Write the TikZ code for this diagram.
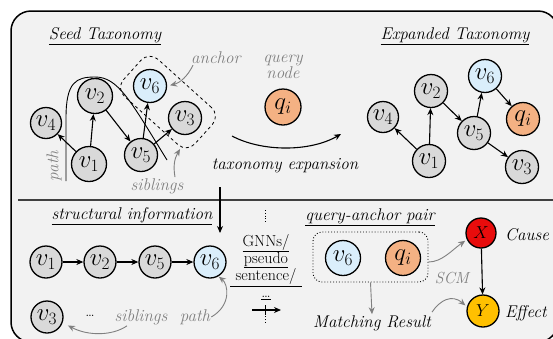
\documentclass[tikz,border=0pt]{standalone}
\usepackage{fontspec}
\usetikzlibrary{arrows.meta,shapes.geometric}
\definecolor{panel}{HTML}{F2F2F2}
\definecolor{nodegray}{HTML}{D9D9D9}
\definecolor{nodeblue}{HTML}{DAEEFB}
\definecolor{nodeorange}{HTML}{F4B183}
\definecolor{causered}{HTML}{E80C0C}
\definecolor{effectgold}{HTML}{FFC000}
\definecolor{notegray}{HTML}{808080}
\definecolor{rulegray}{HTML}{404040}
\tikzset{
  vnode/.style={circle, draw, line width=1.3pt, fill=nodegray, minimum size=33pt,
    inner sep=0pt, font=\fontsize{24}{24}\selectfont},
  bluenode/.style={vnode, fill=nodeblue},
  qnode/.style={vnode, fill=nodeorange},
  title/.style={font=\fontsize{17}{19}\selectfont\itshape, inner sep=1pt},
  note/.style={font=\fontsize{17}{19}\selectfont\itshape, text=notegray, inner sep=1pt},
  plain/.style={font=\fontsize{16}{18}\selectfont, inner sep=0.5pt},
  arr/.style={-{Stealth[length=7pt,width=6pt]}, line width=1.1pt},
  garr/.style={-{Stealth[length=7pt,width=6pt]}, line width=0.9pt, notegray},
}
\begin{document}
\begin{tikzpicture}[x=1pt,y=-1pt]
\useasboundingbox (0,0) rectangle (553,338);
\clip (0,0) rectangle (553,338);
% panel
\draw[line width=1.5pt, fill=panel, rounded corners=20pt] (11,11) rectangle (558,342);
\draw[line width=1.3pt, rulegray] (18,200) -- (560,200);

% ---------- seed taxonomy ----------
\node[title] (seedT) at (105,36) {\underline{Seed Taxonomy}};
\node[vnode, minimum size=31pt] (s4) at (46,123) {$v_4$};
\node[vnode, minimum size=35pt] (s2) at (95,96) {$v_2$};
\node[bluenode] (s6) at (150,86) {$v_6$};
\node[vnode] (s3) at (185,118) {$v_3$};
\node[vnode, minimum size=35pt] (s1) at (89,164) {$v_1$};
\node[vnode] (s5) at (141,155) {$v_5$};
\draw[arr] (s1) -- (s4);
\draw[arr] (s1) -- (s2);
\draw[arr] (s2) -- (s5);
\draw[arr] (s5) -- (s6);
\draw[arr] (s5) -- (s3);
% path through the hierarchy
\coordinate (pathA) at (66,181);
\coordinate (pathB) at (167,160);
\draw[line width=0.9pt] (pathA) -- (66,118) .. controls (66,82) and (76,77) .. (95,77)
  .. controls (118,77) and (130,100) .. (pathB);
% anchor + sibling group
\node[draw, dashed, line width=0.8pt, rounded corners=12pt, rotate=-42,
  minimum width=96pt, minimum height=50pt] (grp) at (168,102) {};
\node[note] (anchorlbl) at (216,58) {anchor};
\draw[garr, shorten >=3pt] ([xshift=3pt]anchorlbl.south west) to[bend left=25] (s6.east);
\node[note] (siblbl) at (157,186) {siblings};
\coordinate (grpB) at (180,149);
\draw[garr] ([xshift=18pt]siblbl.north) to[bend left=20] (grpB);
\node[note, rotate=90] (pathlbl) at (54,166) {path};

% query node
\node[note, align=center] (querylbl) at (283,67) {query\\[-3pt]node};
\node[qnode, minimum size=36pt] (q) at (283,107) {$q_i$};
\coordinate (expA) at (232,136);
\coordinate (expB) at (341,134);
\draw[arr] (expA) .. controls (262,152) and (310,152) .. (expB);
\node[title] (explbl) at (285,166) {taxonomy expansion};

% ---------- expanded taxonomy ----------
\node[title] (expT) at (455,36) {\underline{Expanded Taxonomy}};
\node[vnode, minimum size=31pt] (e4) at (383,117) {$v_4$};
\node[vnode] (e2) at (431,91) {$v_2$};
\node[bluenode] (e6) at (485,76) {$v_6$};
\node[qnode] (eq) at (523,119) {$q_i$};
\node[vnode] (e5) at (474,133) {$v_5$};
\node[vnode] (e1) at (429,161) {$v_1$};
\node[vnode] (e3) at (522,167) {$v_3$};
\draw[arr] (e1) -- (e4);
\draw[arr] (e1) -- (e2);
\draw[arr] (e2) -- (e5);
\draw[arr] (e5) -- (e6);
\draw[arr] (e6) -- (eq);
\draw[arr] (e5) -- (e3);

% ---------- structural information ----------
\coordinate (downA) at (220,187);
\coordinate (downB) at (220,233);
\draw[arr] (downA) -- (downB);
\node[title] (structT) at (132,216) {\underline{structural information}};
\node[vnode, minimum size=32pt] (b1) at (46,262) {$v_1$};
\node[vnode, minimum size=32pt] (b2) at (100,262) {$v_2$};
\node[vnode, minimum size=32pt] (b5) at (155,262) {$v_5$};
\node[bluenode, minimum size=32pt] (b6) at (210,262) {$v_6$};
\draw[arr] (b1) -- (b2);
\draw[arr] (b2) -- (b5);
\draw[arr] (b5) -- (b6);
\node[vnode, minimum size=32pt] (b3) at (47,317) {$v_3$};
\node[plain] (dots) at (90,316) {\dots};
\node[note] (sib2) at (141,317) {siblings};
\node[note] (path2) at (195,317) {path};
\draw[garr] (path2.east) .. controls (232,305) and (228,284) .. ([xshift=1pt]b6.-62);
\draw[garr, shorten >=6pt] ([xshift=-14pt]sib2.south) .. controls (112,336) and (88,336) .. (b3.-20);

% encoders
\draw[dotted, line width=0.8pt] (265,210) -- (265,223);
\node[plain] (g1) at (266,243) {\underline{GNNs/}};
\node[plain] (g2) at (266,260) {\underline{pseudo}};
\node[plain] (g3) at (266,276) {sentence/};
\node[plain] (g4) at (266,298) {\underline{\dots}};
\draw[line width=0.9pt] (230,286) -- (302,286);
\coordinate (encA) at (252,310);
\coordinate (encB) at (281,310);
\draw[arr] (encA) -- (encB);
\draw[dotted, line width=0.8pt] (265,305) -- (265,323);
\draw[line width=0.8pt] (265,305) -- (265,315);

% ---------- query-anchor pair ----------
\node[title] (pairT) at (370,217) {\underline{query-anchor pair}};
\node[draw, dotted, line width=0.9pt, rounded corners=9pt, minimum width=115pt,
  minimum height=50pt] (pairbox) at (370.5,257) {};
\node[bluenode, minimum size=35pt] (p6) at (343,258) {$v_6$};
\node[qnode, minimum size=35pt] (pq) at (403,258) {$q_i$};
\node[circle, draw, line width=1.3pt, fill=causered, minimum size=30pt, inner sep=0pt,
  font=\fontsize{18}{18}\selectfont] (X) at (481,233) {$X$};
\node[circle, draw, line width=1.3pt, fill=effectgold, minimum size=32pt, inner sep=0pt,
  font=\fontsize{18}{18}\selectfont] (Y) at (483,311) {$Y$};
\draw[arr] (X) -- (Y);
\node[title, anchor=west] (cause) at (504,235) {Cause};
\node[title, anchor=west] (effect) at (504,313) {Effect};
\node[note, font=\fontsize{16}{18}\selectfont\itshape] (scm) at (452,278) {SCM};
\draw[garr, shorten >=2pt] ([yshift=-5pt]pairbox.east) .. controls (442,262) and (452,250) .. (X.-155);
\node[title] (match) at (372,323) {Matching Result};
\draw[garr] (pairbox.south) -- (match.north);
\draw[garr, shorten >=2pt] ([yshift=2pt]match.north east) .. controls (440,300) and (452,294) .. (Y.165);
\end{tikzpicture}
\end{document}
